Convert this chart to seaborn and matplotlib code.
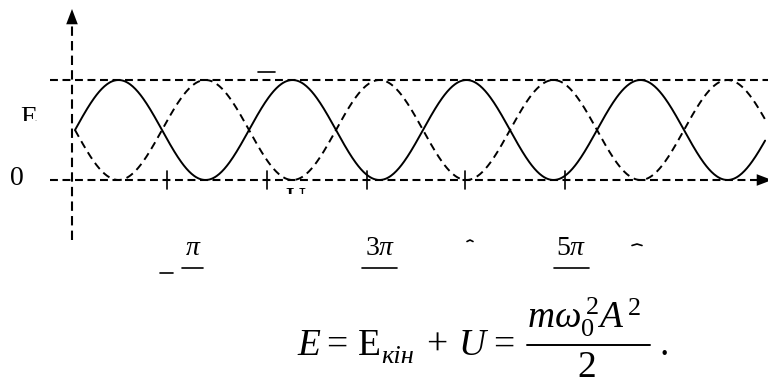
import numpy as np
import pandas as pd
import matplotlib
matplotlib.use("Agg")
import matplotlib.pyplot as plt
import matplotlib.transforms as mtransforms
from matplotlib.lines import Line2D
from matplotlib.patches import FancyArrowPatch
import seaborn as sns

# ---- data -------------------------------------------------------------
# Energy exchange of a harmonic oscillator: kinetic and potential energy
# oscillate between 0 and E with a period of one unit of time.
energy_total = 1.0          # E
energy_period = 1.0         # period of E_kin(t) and U(t)
t_start = 0.0
t_stop = 3.966
tick_times = [0.529, 1.103, 1.678, 2.241, 2.816]
tick_labels = [r"$\pi$", r"$3\pi$", r"$5\pi$"]

t = np.linspace(t_start, t_stop, 800)
e_kin = energy_total * (0.5 + 0.5 * np.sin(2 * np.pi * t / energy_period))
e_pot = energy_total - e_kin
df = pd.DataFrame({"t": np.concatenate([t, t]),
                   "energy": np.concatenate([e_kin, e_pot]),
                   "kind": ["kin"] * len(t) + ["pot"] * len(t)})

# ---- figure -----------------------------------------------------------
sns.set_theme(style="white")
plt.rcParams["font.family"] = ["Liberation Serif", "DejaVu Serif"]
plt.rcParams["mathtext.fontset"] = "custom"
plt.rcParams["mathtext.rm"] = "Liberation Serif"
plt.rcParams["mathtext.it"] = "Liberation Serif:italic"
plt.rcParams["mathtext.bf"] = "Liberation Serif:bold"

W, H = 768, 385
fig = plt.figure(figsize=(W / 100, H / 100), dpi=100)
ax = fig.add_axes([0, 0, 1, 1])
ax.set_axis_off()

# 174 px per period, origin 75 px from left; 100 px per unit of energy
x_scale, x0 = 174.0, 75.0
y_scale, y0 = 100.0, 180.0
ax.set_xlim(-x0 / x_scale, (W - x0) / x_scale)
ax.set_ylim((y0 - H) / y_scale, y0 / y_scale)

# pixel transform (origin top-left) for annotation text
pix = mtransforms.Affine2D().scale(1 / W, -1 / H).translate(0, 1) + fig.transFigure

def px_t(x):
    return (x - x0) / x_scale

def px_e(y):
    return (y0 - y) / y_scale

lw_dash = 1.5
dash = (3.8, 2.2)

sns.lineplot(data=df, x="t", y="energy", style="kind",
             dashes={"kin": "", "pot": (4.0, 2.6)},
             color="black", linewidth=1.4, legend=False, ax=ax,
             estimator=None, sort=False)

# horizontal reference lines at 0 and E
ax.plot([px_t(50), px_t(762)], [0, 0], color="black", lw=lw_dash, dashes=dash)
ax.plot([px_t(50), px_t(W)], [energy_total, energy_total], color="black",
        lw=lw_dash, dashes=dash)
# vertical axis
ax.plot([px_t(72), px_t(72)], [px_e(240), px_e(22)], color="black",
        lw=lw_dash, dashes=(4.5, 2.5))

# arrow heads
for tail, tip in [((px_t(72), px_e(24)), (px_t(72), px_e(9))),
                  ((px_t(756), 0), (px_t(772), 0))]:
    ax.add_patch(FancyArrowPatch(tail, tip,
                                 arrowstyle="-|>,head_length=1.0,head_width=0.38",
                                 mutation_scale=11, color="black", lw=0,
                                 shrinkA=0, shrinkB=0))

# ticks on the time axis
for tt in tick_times:
    ax.plot([tt, tt], [px_e(171), px_e(189)], color="black", lw=1.2)

# labels
txt_kw = dict(transform=pix, color="black", fontsize=20)
ax.text(10, 185, "0", ha="left", va="baseline", **txt_kw)

e_lab = ax.text(20, 125, "E", ha="left", va="baseline", **txt_kw)
e_lab.set_clip_on(True)
e_lab.set_clip_box(mtransforms.Bbox.from_extents(0, H - 121, 60, H - 90))

u_lab = ax.text(285, 206, "U", ha="left", va="baseline", **txt_kw)
u_lab.set_clip_on(True)
u_lab.set_clip_box(mtransforms.Bbox.from_extents(270, H - 194, 320, H - 180))

for lab, cx, (bx0, bx1) in zip(tick_labels, [193, 380, 571],
                               [(182, 203), (362, 397), (554, 589)]):
    ax.text(cx, 255, lab, ha="center", va="baseline", **txt_kw)
    ax.add_line(Line2D([bx0, bx1], [268, 268], transform=pix,
                       color="black", lw=1.2))

# small stray strokes
for (xa, xb, yy) in [(258, 275, 72), (160, 173, 273)]:
    ax.add_line(Line2D([xa, xb], [yy, yy], transform=pix, color="black", lw=1.2))
for (xa, xb, yy) in [(467, 473, 240), (632, 642, 244)]:
    ax.add_line(Line2D([xa, (xa + xb) / 2, xb], [yy + 1.5, yy, yy + 1.5],
                       transform=pix, color="black", lw=1.2))

# total energy formula, E = E_kin + U = m w0^2 A^2 / 2
fkw = dict(transform=pix, color="black", va="baseline", ha="left")
fs = 27
base = 355
ax.text(297, base, "E", fontsize=fs, style="italic", **fkw)
ax.text(326, base, "=", fontsize=fs, **fkw)
ax.text(358, base, "E", fontsize=fs, **fkw)
ax.text(381, 363, "кін", fontsize=19, style="italic", **fkw)
ax.text(426, base, "+", fontsize=fs, **fkw)
ax.text(459, base, "U", fontsize=fs, style="italic", **fkw)
ax.text(493, base, "=", fontsize=fs, **fkw)
ax.text(527, 328, r"$m\omega_0^{\,2} A^{\,2}$", fontsize=fs, **fkw)
ax.add_line(Line2D([527, 650], [345, 345], transform=pix, color="black", lw=1.4))
ax.text(587, 377, "2", fontsize=fs, transform=pix, color="black",
        va="baseline", ha="center")
ax.text(660, base, ".", fontsize=fs, **fkw)

fig.savefig("out.png", dpi=100, facecolor="white")
